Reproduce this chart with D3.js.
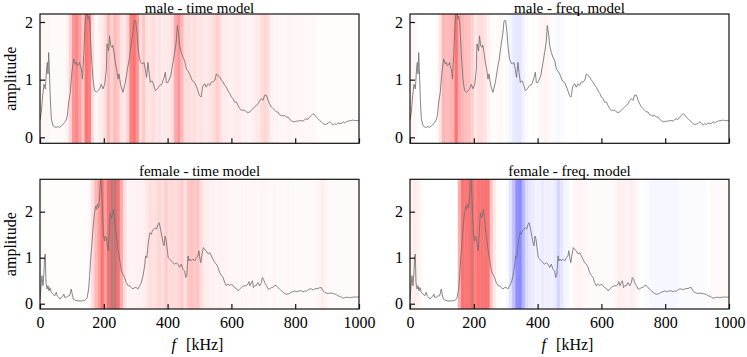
<!DOCTYPE html>
<html><head><meta charset="utf-8">
<script src="https://cdn.jsdelivr.net/npm/d3@7"></script>
<style>
body{margin:0;background:#fff}
text{font-family:"Liberation Serif","DejaVu Serif",serif;fill:#000}
</style>
</head><body><svg id="c" width="747" height="357"></svg>
<script>
// ---------- data ----------
const freqTicks = [0, 200, 400, 600, 800, 1000];
const ampTicks = [0, 1, 2];
const titles = ["male - time model", "male - freq. model", "female - time model", "female - freq. model"];
const binWidth = 10; // kHz per relevance bin

const maleF = [0,4,8,12.5,16.7,20.9,23,25,27.2,29.3,32.4,35.5,40.8,46,51,56,61.7,67,72,77,82,86,90,95,100,105.5,111,114,117,121,124,127,130,133,137,140,143,148,150,153,156,161,166,171,177,182,187,192,197.5,203,208,210,215,218,221.5,225.7,228,232,236,241,244.5,247.6,253,260,267.5,274,280,286,291.5,294.7,298,300,304,307,312,316,320,326,330,334,338.5,341.7,346,351,356,361.5,368,375,382,389,393,396,401,410,417,422,427,430.5,435,438,443,448,453.5,459,464,469,477.5,485,493,500,505,510,516,521,527,532,537,542,548,553,558,563,569,574,579,584,589,595,600,605,610,616,621,626,631,636,642,647,652,657,663,668,673,678,683,689,694,699,704,710,715,720,725,730,736,741,746,751,757,762,767,772,778,783,788,793,798,804,809,814,819,825,830,835,840,845,851,856,861,866,872,877,882,887,892,898,903,908,913,919,924,929,934,940,945,950,955,960,966,971,976,981,986,992,1000];
const maleA = [0.30,0.43,0.70,0.92,0.84,1.21,1.30,1.10,1.47,1.18,0.66,0.32,0.20,0.18,0.17,0.19,0.17,0.20,0.22,0.26,0.30,0.38,0.61,0.78,1.13,1.36,1.27,1.30,1.24,1.26,1.30,1.22,1.18,1.01,1.42,1.82,2.11,2.17,2.05,2.10,2.00,1.42,1.01,0.81,0.78,0.81,0.84,0.92,0.84,0.92,1.18,1.62,1.50,1.76,1.59,1.56,1.60,1.47,1.30,1.16,1.01,1.10,0.90,0.78,0.95,1.18,1.36,1.62,1.82,2.02,2.03,2.02,1.82,1.59,1.36,1.30,1.27,1.30,1.18,1.04,1.30,1.13,0.95,0.98,0.92,0.81,0.84,0.90,0.92,1.04,1.13,0.95,0.95,1.07,1.30,1.47,1.65,1.94,1.76,1.59,1.47,1.39,1.33,1.18,1.15,1.10,0.98,0.95,0.84,0.72,0.70,0.88,0.93,0.87,0.93,0.90,0.96,0.96,0.99,1.10,1.07,1.05,0.99,0.96,0.90,0.87,0.81,0.76,0.70,0.67,0.61,0.61,0.55,0.50,0.47,0.47,0.47,0.44,0.43,0.44,0.47,0.50,0.53,0.55,0.58,0.64,0.67,0.64,0.73,0.73,0.64,0.58,0.53,0.50,0.47,0.44,0.44,0.39,0.38,0.37,0.38,0.35,0.35,0.31,0.29,0.27,0.27,0.28,0.28,0.29,0.29,0.28,0.31,0.32,0.31,0.35,0.38,0.41,0.39,0.35,0.32,0.29,0.27,0.24,0.22,0.23,0.24,0.27,0.25,0.21,0.24,0.22,0.25,0.24,0.24,0.27,0.25,0.27,0.28,0.29,0.29,0.30,0.29,0.29,0.29];

const femaleF = [0,3,6,9.4,12.5,14.6,16.7,18.8,22,25,28,31,35.5,41,46,51,54,58.5,62.7,67,72,75,77,82.5,88,93,98,101,104.5,108.7,119,129.6,140,145,148,152.5,155.7,158.8,163,167,171,174.5,177.6,179.7,184,187,189,191,193,196.4,199.6,202.7,204.8,208,211,214,217,220.5,223.6,226.7,229.9,233,236,240,244.5,249.7,255,260,265,270.6,276,281,286,291.5,296.8,302,307,312.4,317.7,323,328,331,335,338.6,341.7,344.8,349,352,356,361.5,365.7,370,373,376,380,385.6,388.7,392,395,398,402,406.5,411.7,417,422,427,432.6,438,443,448,453.5,456.6,460,464,467,470,474,479.6,485,490,495,498,501.6,504,508,512,516,521,527,532,537,542,548,553,558,563,569,574,579,584,589,595,600,605,610,616,621,626,631,636,642,647,652,655,658,663,666,669,673,678,683,689,694,697,701,704,710,715,720,725,730,736,741,746,751,757,762,767,772,778,783,788,793,798,804,809,814,819,825,830,835,840,845,851,856,861,866,872,877,882,887,892,898,903,908,913,919,924,929,934,940,945,950,955,960,966,971,976,981,986,992,1000];
const femaleA = [0.10,0.35,0.61,0.39,0.68,1.04,1.08,0.46,0.32,0.39,0.28,0.35,0.25,0.21,0.17,0.25,0.17,0.14,0.10,0.14,0.17,0.21,0.14,0.14,0.17,0.17,0.32,0.21,0.10,0.08,0.06,0.06,0.07,0.10,0.14,0.32,0.61,0.97,1.33,1.69,1.98,2.12,2.05,2.16,2.09,2.34,2.63,2.72,2.48,1.90,1.47,1.36,1.47,1.44,1.26,1.15,1.54,1.98,1.87,1.90,2.05,1.90,1.65,1.44,1.18,0.97,0.71,0.64,0.57,0.46,0.39,0.39,0.35,0.32,0.35,0.35,0.32,0.39,0.46,0.61,0.82,1.04,1.00,1.26,1.44,1.54,1.51,1.58,1.62,1.65,1.62,1.72,1.76,1.69,1.54,1.33,1.26,1.47,1.40,1.22,1.00,0.97,0.93,0.89,0.86,0.89,0.86,0.79,0.86,0.75,0.71,0.57,0.61,1.04,0.93,0.97,0.93,0.97,0.93,1.00,1.04,1.15,0.97,0.89,1.08,1.22,1.18,1.15,1.08,1.11,1.04,0.97,0.89,0.86,0.79,0.68,0.61,0.57,0.46,0.39,0.43,0.39,0.43,0.39,0.35,0.33,0.28,0.32,0.35,0.38,0.39,0.39,0.43,0.48,0.39,0.46,0.50,0.35,0.39,0.39,0.46,0.39,0.46,0.57,0.53,0.46,0.39,0.32,0.32,0.35,0.35,0.40,0.39,0.35,0.32,0.28,0.25,0.22,0.21,0.21,0.23,0.25,0.26,0.28,0.26,0.27,0.28,0.28,0.26,0.28,0.27,0.30,0.32,0.32,0.30,0.32,0.33,0.33,0.35,0.35,0.28,0.25,0.23,0.22,0.23,0.23,0.22,0.21,0.20,0.17,0.16,0.14,0.12,0.13,0.14,0.14,0.13,0.14,0.14,0.15,0.14,0.15];

// relevance per 10 kHz bin (positive = red, negative = blue)
const relMaleTime = [0.03,0.03,0.03,0.02,0.02,0.02,0.02,0.02,0.04,0.16,
 0.38,0.44,0.34,0.2,0.5,0.46,0.12,0.03,0.04,0.08,
 0.12,0.25,0.16,0.25,0.2,0.1,0.08,0.16,0.46,0.52,
 0.38,0.12,0.2,0.1,0.1,0.12,0.08,0.1,0.07,0.08,
 0.08,0.12,0.3,0.38,0.25,0.12,0.12,0.1,0.12,0.08,
 0.1,0.08,0.08,0.1,0.12,0.18,0.12,0.07,0.07,0.05,
 0.06,0.07,0.07,0.05,0.05,0.04,0.05,0.07,0.08,0.12,
 0.15,0.12,0.05,0.04,0.04,0.03,0.03,0.04,0.04,0.03,
 0.03,0.03,0.03,0.03,0.03,0.03,0.02,0.01,0.01,0.01,
 0.01,0.01,0.01,0.01,0.01,0.01,0.01,0.01,0.01,0.01];
const relMaleFreq = [0.04,0.03,0.01,0,0,0,0,0,0.02,0.1,
 0.26,0.24,0.26,0.28,0.5,0.3,0.26,0.24,0.22,0.17,
 0.08,0.12,0.13,0.1,0.05,0.02,0.01,0.02,0.03,0.01,
 -0.02,-0.04,-0.07,-0.09,-0.09,-0.05,-0.02,0,0.01,0,
 0.02,0.03,0.04,0.03,-0.01,-0.02,-0.03,-0.02,-0.01,0,
 0,0,0.01,0,0,0,0,0,0,0,
 0,0,0,0,0,0,0,0,0,0,
 0,0,0,0,0,0,0,0,0,0,
 0,0,0,0,0,0,0,0,0,0,
 0,0,0,0,0,0,0,0,0,0];
const relFemaleTime = [0.02,0.01,0.01,0.01,0.01,0.01,0.01,0.01,0.01,0.01,
 0.01,0.01,0.01,0.01,0.01,0.03,0.12,0.25,0.35,0.5,
 0.35,0.6,0.88,0.92,0.6,0.3,0.12,0.05,0.04,0.04,
 0.05,0.05,0.06,0.08,0.12,0.1,0.12,0.15,0.12,0.18,
 0.12,0.14,0.12,0.15,0.18,0.1,0.2,0.22,0.2,0.22,
 0.12,0.07,0.06,0.05,0.05,0.04,0.05,0.04,0.04,0.03,
 0.03,0.03,0.02,0.03,0.03,0.02,0.03,0.03,0.02,0.03,
 0.03,0.02,0.02,0.03,0.02,0.02,0.02,0.03,0.02,0.02,
 0.02,0.02,0.02,0.02,0.02,0.02,0.03,0.04,0.06,0.04,
 0.02,0.02,0.02,0.02,0.02,0.02,0.02,0.02,0.02,0.02];
const relFemaleFreq = [0.04,0.07,0.05,0.02,0,0,0,0,0,0,
 0,0,0,0,0,0.3,0.55,0.5,0.55,0.72,
 0.45,0.5,0.55,0.55,0.5,0.2,0.08,0.02,0,0,
 -0.02,-0.1,-0.22,-0.4,-0.42,-0.26,-0.13,-0.09,-0.07,-0.05,
 -0.05,-0.07,-0.05,-0.06,-0.05,-0.07,-0.15,-0.09,-0.04,-0.03,
 0,0.03,0.04,0.04,0.03,0.02,0.02,0.02,0.02,0.02,
 0.02,0.02,0.02,0.02,0.03,0.06,0.05,0.05,0.04,0.06,
 0.05,0.02,0,-0.01,-0.02,-0.03,-0.03,-0.03,-0.03,-0.03,
 -0.03,-0.03,-0.03,-0.03,-0.02,-0.02,-0.02,-0.02,-0.02,-0.02,
 -0.02,-0.02,-0.02,0,0.02,0.02,0.02,0.02,0.02,0.02];

// ---------- layout ----------
const svg = d3.select("#c");
const W = 319;
const panels = [
  {title: titles[0], f: maleF, a: maleA, rel: relMaleTime, x0: 40, y0: 14, h: 129.3, ydom: [-0.104, 2.139], yl: true, xl: false, tb: 13.4},
  {title: titles[1], f: maleF, a: maleA, rel: relMaleFreq, x0: 410, y0: 14, h: 129.3, ydom: [-0.104, 2.139], yl: false, xl: false, tb: 13.4},
  {title: titles[2], f: femaleF, a: femaleA, rel: relFemaleTime, x0: 40, y0: 179.3, h: 129.7, ydom: [-0.115, 2.704], yl: true, xl: true, tb: 176},
  {title: titles[3], f: femaleF, a: femaleA, rel: relFemaleFreq, x0: 410, y0: 179.3, h: 129.7, ydom: [-0.115, 2.704], yl: false, xl: true, tb: 176}
];

// seismic-like colormap, blended on white
const cmap = d3.scaleLinear()
  .domain([-1, -0.5, 0, 0.5, 1])
  .range(["#00004d", "#0000ff", "#ffffff", "#ff0000", "#800000"])
  .clamp(true);
const alpha = 0.55;
const colorOf = v => d3.interpolateRgb("#ffffff", cmap(v))(alpha);

panels.forEach((p, k) => {
  const g = svg.append("g").attr("transform", `translate(${p.x0},${p.y0})`);
  const x = d3.scaleLinear().domain([0, 1000]).range([0, W]);
  const y = d3.scaleLinear().domain(p.ydom).range([p.h, 0]);
  const cid = "clip" + k;
  g.append("clipPath").attr("id", cid).append("rect").attr("width", W).attr("height", p.h);
  const body = g.append("g").attr("clip-path", `url(#${cid})`);
  body.selectAll("rect.bin").data(p.rel).join("rect")
    .attr("class", "bin")
    .attr("x", (d, i) => x(i * binWidth))
    .attr("y", 0)
    .attr("width", (d, i) => x((i + 1) * binWidth) - x(i * binWidth) + 0.4)
    .attr("height", p.h)
    .attr("fill", d => colorOf(d));
  const line = d3.line().x(d => x(d[0])).y(d => y(d[1]));
  body.append("path")
    .datum(p.f.map((f, i) => [f, p.a[i]]))
    .attr("d", line)
    .attr("fill", "none")
    .attr("stroke", "#707070")
    .attr("stroke-width", 0.85)
    .attr("stroke-linejoin", "round");

  const xa = d3.axisBottom(x).tickValues(freqTicks).tickSizeInner(-5).tickSizeOuter(0).tickPadding(8).tickFormat(d3.format("d"));
  if (!p.xl) xa.tickFormat("");
  const gx = g.append("g").attr("transform", `translate(0,${p.h})`).call(xa);
  const ya = d3.axisLeft(y).tickValues(ampTicks).tickSizeInner(-5).tickSizeOuter(0).tickPadding(7).tickFormat(d3.format("d"));
  const gy = g.append("g").call(ya);
  [gx, gy].forEach(a => {
    a.select(".domain").remove();
    a.selectAll("line").attr("stroke", "#111").attr("stroke-width", 1.2);
    a.selectAll("text").attr("font-size", 16).attr("font-family", '"Liberation Serif", serif').attr("fill", "#000");
  });
  g.append("rect").attr("width", W).attr("height", p.h)
    .attr("fill", "none").attr("stroke", "#111").attr("stroke-width", 1.2);

  g.append("text").attr("x", W / 2).attr("y", p.tb - p.y0)
    .attr("text-anchor", "middle").attr("font-size", 15).text(p.title);

  if (p.yl) {
    g.append("text")
      .attr("transform", `translate(${10 - p.x0},${p.h / 2}) rotate(-90)`)
      .attr("text-anchor", "middle").attr("dominant-baseline", "central")
      .attr("font-size", 16).text("amplitude");
  }
  if (p.xl) {
    const t = g.append("text").attr("x", W / 2 - 2).attr("y", 350 - p.y0)
      .attr("text-anchor", "middle").attr("font-size", 16);
    t.append("tspan").attr("font-style", "italic").text("f");
    t.append("tspan").attr("dx", 10).text("[kHz]");
  }
});
</script></body></html>
